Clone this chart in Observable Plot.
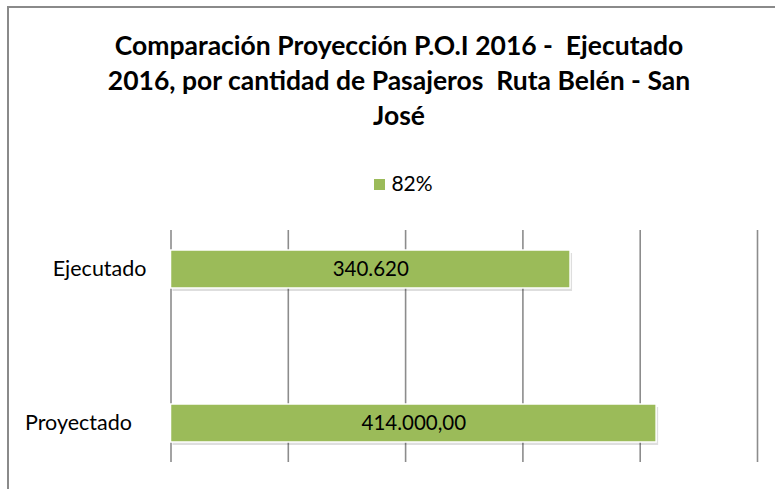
<!DOCTYPE html>
<html>
<head>
<meta charset="utf-8">
<script src="https://cdn.jsdelivr.net/npm/d3@7"></script>
<script src="https://cdn.jsdelivr.net/npm/@observablehq/plot@0.6"></script>
<style>
  html, body { margin: 0; padding: 0; background: #fff; overflow: hidden; }
  body { width: 775px; height: 489px; position: relative; font-family: Lato, "Open Sans", sans-serif; }
  #frame { position: absolute; left: 7px; top: 6px; width: 790px; height: 500px; border: 2px solid #8a8a8a; box-sizing: border-box; }
  #title { position: absolute; left: 8px; top: 28px; width: 782px; text-align: center; font-weight: bold; font-size: 26.5px; line-height: 35px; color: #000; }
  #legend { position: absolute; left: 8px; top: 169px; width: 782px; padding-left: 9px; box-sizing: border-box; text-align: center; font-size: 21px; line-height: 28px; color: #000; }
  #legend .sw { display: inline-block; width: 11px; height: 11px; background: #9BBB59; margin-right: 6px; vertical-align: 1px; }
  #chart { position: absolute; left: 0; top: 220px; }
</style>
</head>
<body>
<div id="frame"></div>
<div id="title"></div>
<div id="legend"></div>
<div id="chart"></div>
<script>
const titleLines = ["Comparación Proyección P.O.I 2016 -\u00a0 Ejecutado", "2016, por cantidad de Pasajeros\u00a0 Ruta Belén - San", "José"];
const seriesName = "82%";
const categories = ["Ejecutado", "Proyectado"];
const values = [340620, 414000];
const valueLabels = ["340.620", "414.000,00"];
const gridTicks = [0, 100000, 200000, 300000, 400000, 500000];
const barColor = "#9BBB59";

document.getElementById("title").innerHTML = titleLines.join("<br>");
document.getElementById("legend").innerHTML = `<span class="sw"></span>${seriesName}`;

const data = categories.map((c, i) => ({category: c, value: values[i], label: valueLabels[i]}));

const chart = Plot.plot({
  width: 775,
  height: 260,
  marginLeft: 170.5,
  marginRight: 18,
  marginTop: 10,
  marginBottom: 18,
  style: {fontFamily: "Lato, 'Open Sans', sans-serif", fontSize: "21.5px", color: "#000", background: "transparent"},
  x: {domain: [0, 500000], axis: null},
  y: {domain: categories, paddingInner: 0.754, paddingOuter: 0.128, label: null, axis: null},
  marks: [
    Plot.axisY([categories[0]], {tickSize: 0, tickPadding: 24.5, label: null, fontSize: 21.5}),
    Plot.axisY([categories[1]], {tickSize: 0, tickPadding: 39, label: null, fontSize: 21.5}),
    Plot.ruleX(gridTicks, {stroke: "#8c8c8c", strokeWidth: 1.6}),
    Plot.barX(data, {x: "value", y: "category", fill: "#000", fillOpacity: 0.13, dx: 2, dy: 3}),
    Plot.barX(data, {x: "value", y: "category", fill: barColor, stroke: "#fff", strokeWidth: 1.5}),
    Plot.text(data, {x: d => d.value / 2, y: "category", text: "label", fill: "#000", fontSize: 20.5})
  ]
});
document.getElementById("chart").appendChild(chart);
</script>
</body>
</html>
